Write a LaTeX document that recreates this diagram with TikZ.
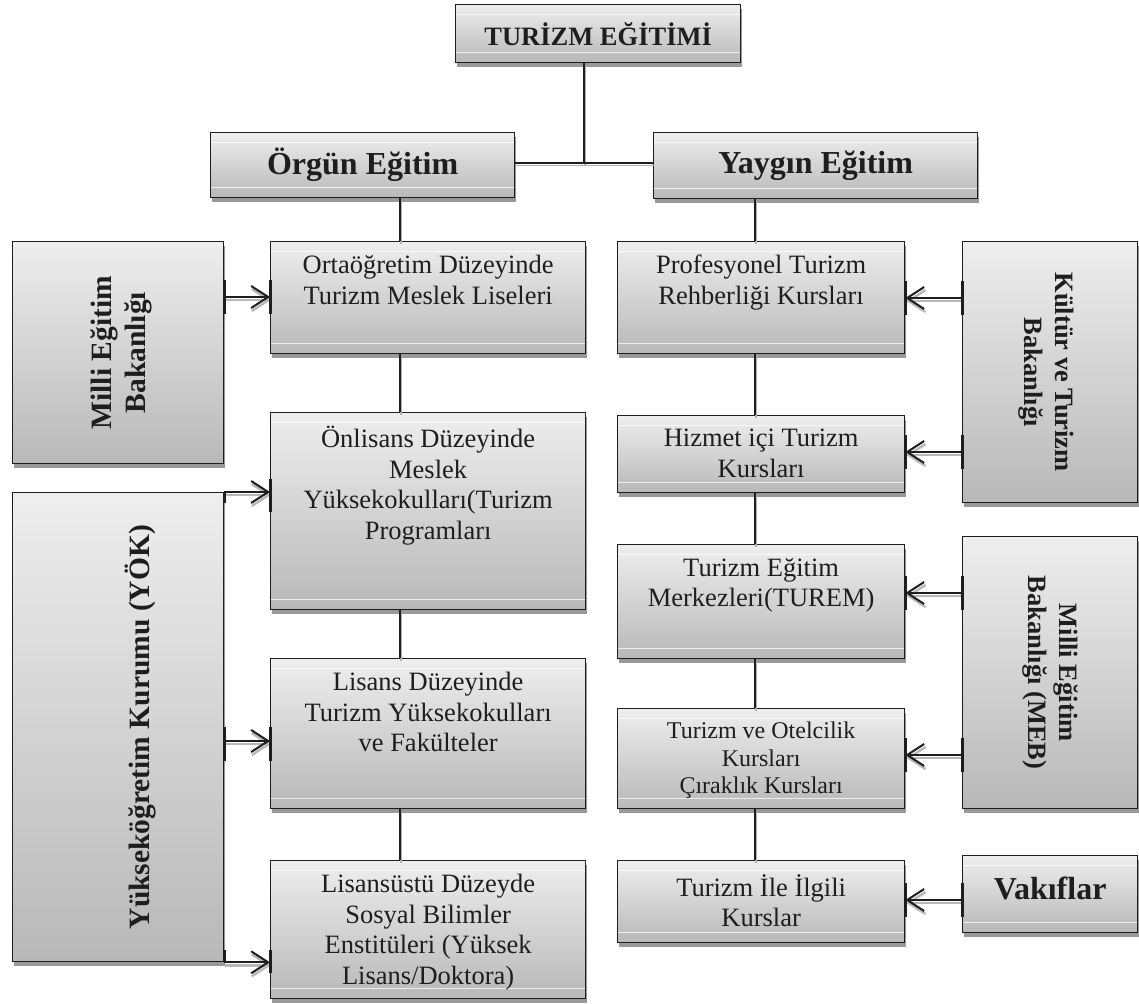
\documentclass[tikz,border=0pt]{standalone}
\usepackage{fontspec}
\setmainfont{Liberation Serif}
\usetikzlibrary{arrows.meta,shadows}
\definecolor{boxtop}{RGB}{238,238,238}
\definecolor{boxbot}{RGB}{184,184,184}
\definecolor{ink}{RGB}{30,30,30}
\begin{document}
\begin{tikzpicture}[x=1pt,y=-1pt,
  gbox/.style={rectangle, draw=ink, line width=1.3pt, top color=boxtop, bottom color=boxbot,
    inner sep=0pt, anchor=north west,
    general shadow={fill=black!40, shadow xshift=1pt, shadow yshift=-4pt}},
  hl/.style={path picture={
    \draw[white, opacity=.75, line width=.8pt] ([yshift=-10pt]path picture bounding box.north west) -- ([yshift=-10pt]path picture bounding box.north east);
    \draw[white, opacity=.75, line width=.8pt] ([yshift=10pt]path picture bounding box.south west) -- ([yshift=10pt]path picture bounding box.south east);}},
  body/.style={anchor=north, align=center, inner sep=0pt, text=ink,
    font=\fontsize{26.5}{30.5}\selectfont, execute at begin node=\strut},
  small/.style={body, font=\fontsize{24}{27.5}\selectfont},
  title/.style={inner sep=0pt, text=ink, font=\bfseries\fontsize{32}{36}\selectfont},
  vtxt/.style={inner sep=0pt, align=center, text=ink, font=\bfseries\fontsize{29.5}{34}\selectfont},
  vtxtr/.style={inner sep=0pt, align=center, text=ink, font=\bfseries\fontsize{26.5}{31}\selectfont},
  conn/.style={draw=ink, line width=1.6pt,
    preaction={draw=black!30, line width=1.8pt, transform canvas={xshift=1pt, yshift=-2.5pt}}},
  arr/.style={draw=ink, line width=2pt, -{Straight Barb[length=17pt,width=22pt]},
    preaction={draw=black!28, line width=2.4pt, transform canvas={xshift=1pt, yshift=-3pt}}},
  emk/.style={draw=ink, line width=3pt}
]
\useasboundingbox (0,0) rectangle (1139,1003);

% ---- boxes
\node[gbox, hl, minimum width=285pt, minimum height=58pt] (te) at (455,4) {};
\node[gbox, hl, minimum width=304pt, minimum height=65pt] (org) at (210,132) {};
\node[gbox, hl, minimum width=324pt, minimum height=66pt] (yay) at (653,132) {};
\node[gbox, minimum width=211pt, minimum height=222pt] (mebL) at (12,241) {};
\node[gbox, minimum width=211pt, minimum height=469pt] (yok) at (12,492) {};
\node[gbox, hl, minimum width=315pt, minimum height=112pt] (orta) at (270,241) {};
\node[gbox, hl, minimum width=315pt, minimum height=197pt] (onl) at (270,412) {};
\node[gbox, hl, minimum width=315pt, minimum height=150pt] (lis) at (270,658) {};
\node[gbox, hl, minimum width=315pt, minimum height=138pt] (lisu) at (270,860) {};
\node[gbox, hl, minimum width=287pt, minimum height=112pt] (prof) at (617,241) {};
\node[gbox, hl, minimum width=287pt, minimum height=77pt] (hiz) at (617,415) {};
\node[gbox, hl, minimum width=287pt, minimum height=114pt] (tem) at (617,544) {};
\node[gbox, hl, minimum width=287pt, minimum height=100pt] (otel) at (617,708) {};
\node[gbox, hl, minimum width=287pt, minimum height=82pt] (ile) at (617,860) {};
\node[gbox, minimum width=175pt, minimum height=261pt] (kul) at (962,241) {};
\node[gbox, minimum width=175pt, minimum height=272pt] (mebR) at (962,536) {};
\node[gbox, hl, minimum width=175pt, minimum height=77pt] (vak) at (962,855) {};

% ---- texts
\node[title, font=\bfseries\fontsize{26.5}{30}\selectfont] (teT) at (te.center) {TURİZM EĞİTİMİ};
\node[title] (orgT) at (org.center) {Örgün Eğitim};
\node[title] (yayT) at (yay.center) {Yaygın Eğitim};
\node[title] (vakT) at ([yshift=-33pt]vak.north) {Vakıflar};
\node[vtxt, rotate=90] (mebLT) at ([xshift=3pt]mebL.center) {Milli Eğitim\\Bakanlığı};
\node[vtxt, rotate=90] (yokT) at ([xshift=22pt]yok.center) {Yükseköğretim Kurumu (YÖK)};
\node[vtxtr, rotate=-90] (kulT) at ([xshift=-4pt]kul.center) {Kültür ve Turizm\\Bakanlığı};
\node[vtxtr, rotate=-90] (mebRT) at (mebR.center) {Milli Eğitim\\Bakanlığı (MEB)};

\node[body] (ortaT) at ([yshift=-14pt]orta.north) {Ortaöğretim Düzeyinde\\Turizm Meslek Liseleri};
\node[body] (onlT) at ([yshift=-14pt]onl.north) {Önlisans Düzeyinde\\Meslek\\Yüksekokulları(Turizm\\Programları};
\node[body] (lisT) at ([yshift=-14pt]lis.north) {Lisans Düzeyinde\\Turizm Yüksekokulları\\ve Fakülteler};
\node[body] (lisuT) at ([yshift=-14pt]lisu.north) {Lisansüstü Düzeyde\\Sosyal Bilimler\\Enstitüleri (Yüksek\\Lisans/Doktora)};
\node[body] (profT) at ([yshift=-14pt]prof.north) {Profesyonel Turizm\\Rehberliği Kursları};
\node[body] (hizT) at ([yshift=-14pt]hiz.north) {Hizmet içi Turizm\\Kursları};
\node[body] (temT) at ([yshift=-14pt]tem.north) {Turizm Eğitim\\Merkezleri(TUREM)};
\node[small] (otelT) at ([yshift=-14pt]otel.north) {Turizm ve Otelcilik\\Kursları\\Çıraklık Kursları};
\node[body] (ileT) at ([yshift=-14pt]ile.north) {Turizm İle İlgili\\Kurslar};

% ---- tree connectors
\coordinate (j) at (584,163);
\coordinate (mc) at (400,0);
\coordinate (rc) at (755,0);
\draw[conn] (te.south -| j) -- (j);
\draw[conn] (org.east |- j) -- (yay.west |- j);
\draw[conn] (org.south -| mc) -- (orta.north -| mc);
\draw[conn] (orta.south -| mc) -- (onl.north -| mc);
\draw[conn] (onl.south -| mc) -- (lis.north -| mc);
\draw[conn] (lis.south -| mc) -- (lisu.north -| mc);
\draw[conn] (yay.south -| rc) -- (prof.north -| rc);
\draw[conn] (prof.south -| rc) -- (hiz.north -| rc);
\draw[conn] (hiz.south -| rc) -- (tem.north -| rc);
\draw[conn] (tem.south -| rc) -- (otel.north -| rc);
\draw[conn] (otel.south -| rc) -- (ile.north -| rc);

% ---- arrows (left side)
\draw[arr] (mebL.east |- 0,297) -- (orta.west |- 0,297);
\draw[emk] (mebL.east |- 0,280) -- (mebL.east |- 0,314);
\draw[emk] (orta.west |- 0,280) -- (orta.west |- 0,314);

\draw[arr] (yok.north east) -- (onl.west |- yok.north east);
\draw[emk] (yok.east |- 0,492) -- (yok.east |- 0,503);
\draw[emk] (onl.west |- 0,479) -- (onl.west |- 0,512);

\draw[arr] (yok.east |- 0,741) -- (lis.west |- 0,741);
\draw[emk] (yok.east |- 0,727) -- (yok.east |- 0,761);
\draw[emk] (lis.west |- 0,727) -- (lis.west |- 0,761);

\draw[arr] (yok.south east) -- (lisu.west |- yok.south east);
\draw[emk] (yok.east |- 0,950) -- (yok.east |- 0,961);
\draw[emk] (lisu.west |- 0,950) -- (lisu.west |- 0,973);

% ---- arrows (right side)
\draw[arr] (kul.west |- 0,298) -- (prof.east |- 0,298);
\draw[emk] (kul.west |- 0,281) -- (kul.west |- 0,315);
\draw[emk] (prof.east |- 0,281) -- (prof.east |- 0,315);

\draw[arr] (kul.west |- 0,452) -- (hiz.east |- 0,452);
\draw[emk] (kul.west |- 0,435) -- (kul.west |- 0,469);
\draw[emk] (hiz.east |- 0,435) -- (hiz.east |- 0,469);

\draw[arr] (mebR.west |- 0,593) -- (tem.east |- 0,593);
\draw[emk] (mebR.west |- 0,576) -- (mebR.west |- 0,610);
\draw[emk] (tem.east |- 0,576) -- (tem.east |- 0,610);

\draw[arr] (mebR.west |- 0,755) -- (otel.east |- 0,755);
\draw[emk] (mebR.west |- 0,738) -- (mebR.west |- 0,772);
\draw[emk] (otel.east |- 0,738) -- (otel.east |- 0,772);

\draw[arr] (vak.west |- 0,900) -- (ile.east |- 0,900);
\draw[emk] (vak.west |- 0,883) -- (vak.west |- 0,917);
\draw[emk] (ile.east |- 0,883) -- (ile.east |- 0,917);
\end{tikzpicture}
\end{document}
